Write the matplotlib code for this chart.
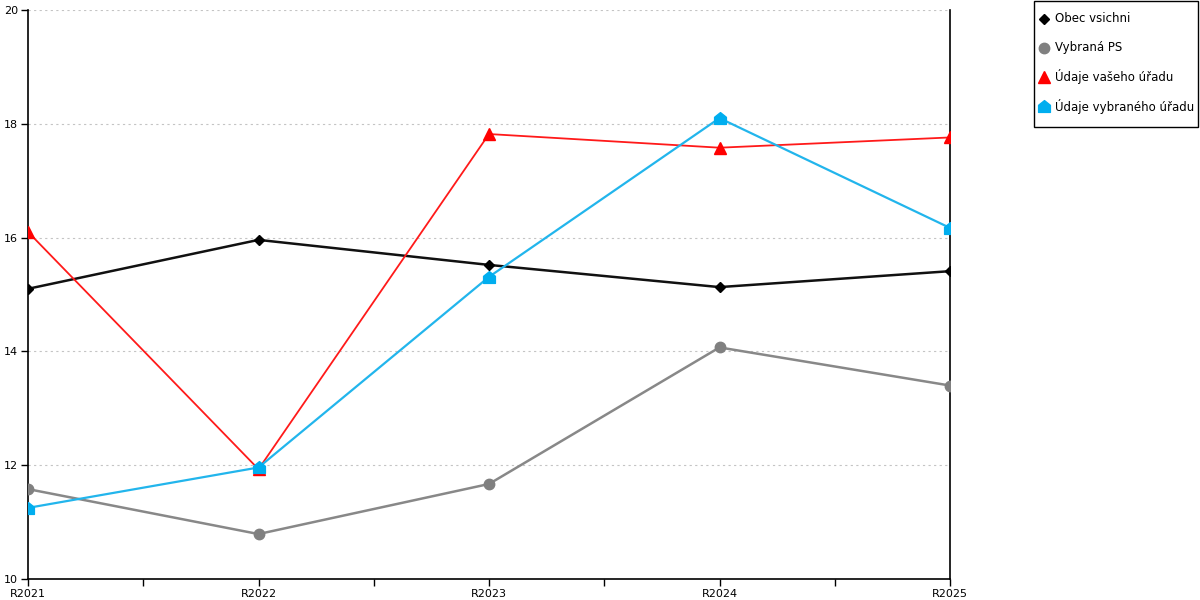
import matplotlib
matplotlib.use("Agg")
import matplotlib.pyplot as plt
from matplotlib.path import Path
from matplotlib.lines import Line2D
from matplotlib.patches import Rectangle

categories = ["R2021", "R2022", "R2023", "R2024", "R2025"]
obec_vsichni = [15.10, 15.96, 15.52, 15.13, 15.41]
vybrana_ps = [11.58, 10.79, 11.67, 14.07, 13.40]
udaje_vaseho = [16.10, 11.93, 17.82, 17.58, 17.76]
udaje_vybraneho = [11.25, 11.96, 15.31, 18.10, 16.17]
series_names = ["Obec vsichni", "Vybraná PS", "Údaje vašeho úřadu", "Údaje vybraného úřadu"]
yticks = [10, 12, 14, 16, 18, 20]

plt.rcParams['font.family'] = ['DejaVu Sans']

house = Path([(-1, -1), (1, -1), (1, 0.2), (0, 1), (-1, 0.2), (-1, -1)],
             [Path.MOVETO, Path.LINETO, Path.LINETO, Path.LINETO, Path.LINETO, Path.CLOSEPOLY])

W, H = 1200, 600
fig = plt.figure(figsize=(12, 6), dpi=100)
ax = fig.add_axes([28/W, 1 - 579/H, (950-28)/W, (579-10)/H])

styles = [
    dict(color="#111111", lw=1.8, marker="D", ms=5.5, mfc="black", mec="black", zorder=3),
    dict(color="#888888", lw=1.8, marker="o", ms=7.5, mfc="#808080", mec="#808080", zorder=3),
    dict(color="#ff1a1a", lw=1.3, marker="^", ms=8, mfc="red", mec="red", zorder=4),
    dict(color="#22b5ec", lw=1.6, marker=house, ms=8.5, mfc="#00aeef", mec="#00aeef", zorder=5),
]
x = list(range(len(categories)))
for vals, st in zip([obec_vsichni, vybrana_ps, udaje_vaseho, udaje_vybraneho], styles):
    ax.plot(x, vals, **st)

ax.set_xlim(0, len(categories) - 1)
ax.set_ylim(10, 20)
ax.set_yticks(yticks)
ax.set_yticklabels([str(v) for v in yticks], fontsize=8)
ax.set_xticks(x)
ax.set_xticklabels(categories, fontsize=8)
ax.set_xticks([i + 0.5 for i in range(len(categories) - 1)], minor=True)
ax.tick_params(axis='x', which='both', direction='out', length=5, width=1, pad=2)
ax.tick_params(axis='y', direction='out', length=5, width=1, pad=2)
for yv in yticks[1:]:
    ax.axhline(yv, color="#c4c4c4", lw=0.8, ls=(0, (2, 3)), zorder=1)
ax.spines['top'].set_visible(False)
for s in ['left', 'bottom', 'right']:
    ax.spines[s].set_color('black')
    ax.spines[s].set_linewidth(1.2)

# legend box drawn manually
fig.add_artist(Rectangle((1034/W, 1 - 127/H), (1198-1034)/W, 126/H, transform=fig.transFigure,
                         facecolor='white', edgecolor='black', lw=1))
legend_ys = [19, 48, 77, 106]
for name, st, ly in zip(series_names, styles, legend_ys):
    fig.add_artist(Line2D([1044/W], [1 - ly/H], transform=fig.transFigure, ls='none',
                          marker=st['marker'], ms=st['ms'], mfc=st['mfc'], mec=st['mec']))
    fig.text(1055/W, 1 - ly/H, name, fontsize=8.5, va='center', ha='left')

fig.savefig("out.png", dpi=100)
